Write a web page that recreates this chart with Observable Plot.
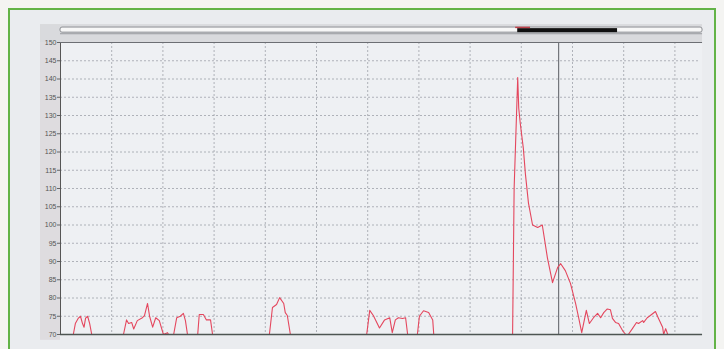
<!DOCTYPE html>
<html><head><meta charset="utf-8">
<script src="https://cdn.jsdelivr.net/npm/d3@7"></script>
<script src="https://cdn.jsdelivr.net/npm/@observablehq/plot@0.6"></script>
<style>
html,body{margin:0;padding:0;background:#f4f4f2;width:724px;height:349px;overflow:hidden;}
#frame{position:absolute;left:8px;top:8px;width:704px;height:360px;border:2px solid #63b347;background:#eaecef;}
#chart{position:absolute;left:0;top:0;}
</style></head><body><div id="frame"></div><div id="chart"></div>
<script>
// y-axis tick labels (heart-rate scale)
const yTicks = [70,75,80,85,90,95,100,105,110,115,120,125,130,135,140,145,150];
const yGrid = [75,80,85,90,95,100,105,110,115,120,125,130,135,140,145];
// vertical dotted grid positions (time units)
const xGrid = [10,20,30,40,50,60,70,80,90,100,110,120];
// solid cursor line
const cursorT = [97.3];
// scroll bar above the plot: track extent and visible window
const scrollTrack = [0, 125.4];
const scrollThumb = [89.3, 108.8];
const scrollMark = [88.9, 91.8];

// red trace, one array pair per visible run
const t1 = [2.5,2.9,3.5,3.9,4.3,4.6,4.9,5.3,5.7,6.1];
const v1 = [70,73,74.5,75,73,72,74.5,75,73,70];
const t2 = [12.3,12.9,13.3,13.9,14.3,15.0,16.0,16.4,17.0,17.4,18.0,18.6,19.3,20.1,20.9,21.1];
const v2 = [70,74,73,73.3,71.5,73.8,74.6,75.2,78.5,75,72,74.6,73.8,70,70.5,70];
const t3 = [22.1,22.7,23.4,24.0,24.4,24.8];
const v3 = [70,74.6,75,75.8,73.8,70];
const t4 = [26.8,27.1,27.9,28.5,29.3,29.7];
const v4 = [70,75.5,75.5,74,74,70];
const t5 = [40.8,41.4,42.2,42.8,43.6,43.9,44.3,44.9];
const v5 = [70,77.4,78.2,80.1,78.5,76,75.2,70];
const t6 = [59.8,60.4,61.1,62.3,63.3,64.3,64.8,65.4,66.0,66.8,67.4,67.8];
const v6 = [70,76.6,75.2,71.8,74,74.6,70.5,74,74.6,74.4,74.6,70];
const t7 = [69.7,70.1,70.9,71.9,72.7,72.9];
const v7 = [70,75,76.5,76,74,70];
const t8 = [88.3,88.6,89.3,89.5,89.8,90.4,90.8,91.4,92.2,93.2,94.1,95.1,96.1,97.1,97.7,98.6,99.6,100.6,101.2,101.8,102.7,103.3,104.1,104.9,105.5,106.1,106.8,107.4,107.8,108.4,109.0,109.8,110.4,110.9,111.7,112.5,112.9,113.7,113.9,114.6,115.2,116.2,116.8,117.6,117.8,118.2,118.6];
const v8 = [70,110,140.4,132,127.8,121,114,106,100,99.3,100,91,84.2,88.4,89.4,87.5,84,78.5,74.6,70.5,76.6,73,74.6,75.8,74.6,76,77,76.8,74.4,73.3,73,71,70,70,71.6,73.3,73,73.8,73.3,74.6,75.2,76.3,74.4,72,70,71.6,70];

const runs = [[t1,v1],[t2,v2],[t3,v3],[t4,v4],[t5,v5],[t6,v6],[t7,v7],[t8,v8]];
const trace = runs.flatMap(([ts,vs],k) => ts.map((t,i) => ({t, v: vs[i], run: k})));

const chart = Plot.plot({
  width: 724, height: 349,
  marginLeft: 60, marginRight: 24, marginTop: 42, marginBottom: 15,
  x: {domain: [0, 125], axis: null},
  y: {domain: [70, 150], axis: null},
  style: {background: "transparent", fontFamily: "Liberation Sans, Arial, sans-serif", color: "#555"},
  marks: [
    // left label strip and top band
    Plot.rectX([0], {x1: -3.9, x2: 0, y1: 68.4, y2: 154.9, fill: "#dedcdf"}),
    Plot.rectX([0], {x1: -3.9, x2: scrollTrack[1], y1: 150, y2: 154.9, fill: "#d9dadd"}),
    Plot.rectX([0], {x1: 0, x2: scrollTrack[1], y1: 70, y2: 150, fill: "#eef0f3"}),
    Plot.rectX([0], {x1: scrollTrack[0], x2: scrollTrack[1], y1: 152.7, y2: 154.1, fill: "#f7f7f7", stroke: "#8d8f94", strokeWidth: 1, rx: 2}),
    Plot.rectX([0], {x1: scrollThumb[0], x2: scrollThumb[1], y1: 152.7, y2: 153.8, fill: "#111"}),
    Plot.rectX([0], {x1: scrollMark[0], x2: scrollMark[1], y1: 153.8, y2: 154.2, fill: "#c0404a"}),
    Plot.ruleY([152.4], {x1: scrollTrack[0], x2: scrollTrack[1], stroke: "#9a9ca0"}),
    // grid
    Plot.gridY(yGrid, {stroke: "#9a9da5", strokeOpacity: 0.75, strokeDasharray: "2,2"}),
    Plot.gridX(xGrid, {stroke: "#9a9da5", strokeOpacity: 0.75, strokeDasharray: "2,2"}),
    Plot.ruleX(cursorT, {stroke: "#5a5c62", strokeWidth: 1}),
    // axes
    Plot.axisY(yTicks, {label: null, tickSize: 3, tickPadding: 1, fontSize: 7, stroke: "#666", fill: "#555"}),
    Plot.ruleX([0], {stroke: "#555"}),
    Plot.ruleY([150], {x1: 0, x2: scrollTrack[1], stroke: "#6c6e73"}),
    // trace
    Plot.line(trace, {x: "t", y: "v", z: "run", stroke: "#e4475e", strokeWidth: 1.1, curve: "linear"}),
    Plot.ruleY([70], {x1: 0, x2: scrollTrack[1], stroke: "#4d5552", strokeWidth: 1.6})
  ]
});
document.getElementById("chart").appendChild(chart);
</script>
</body></html>
